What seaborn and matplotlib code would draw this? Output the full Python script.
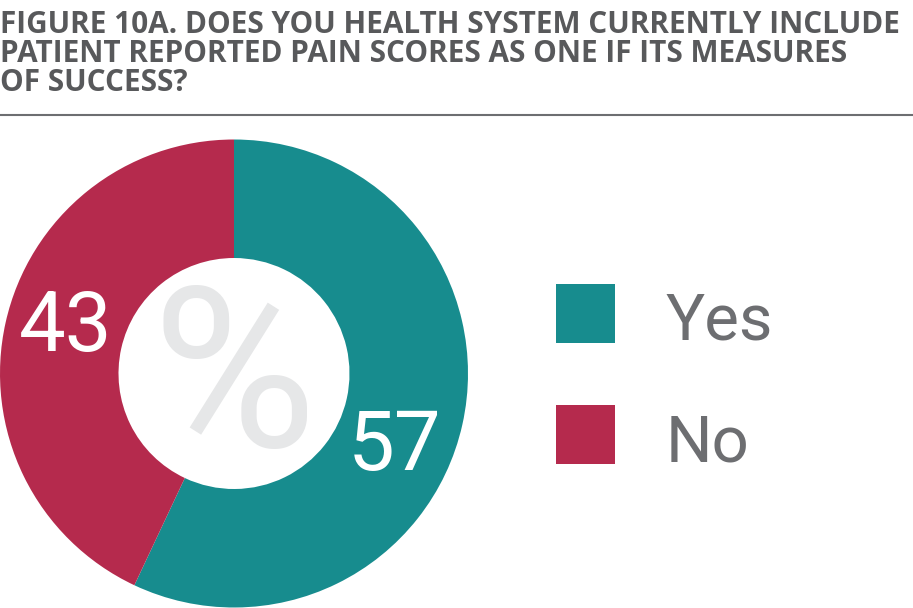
import matplotlib
matplotlib.use("Agg")
import matplotlib.pyplot as plt
from matplotlib.patches import Rectangle
import seaborn as sns

# data
categories = ["Yes", "No"]
values = [57, 43]
colors = ["#178c8e", "#b52a4d"]
title_lines = [
    "FIGURE 10A. DOES YOU HEALTH SYSTEM CURRENTLY INCLUDE",
    "PATIENT REPORTED PAIN SCORES AS ONE IF ITS MEASURES",
    "OF SUCCESS?",
]

sns.set_theme(style="white")
plt.rcParams["font.family"] = ["Roboto", "DejaVu Sans"]

W, H = 913, 608
fig = plt.figure(figsize=(W / 100, H / 100), dpi=100)
ax = fig.add_axes([0, 0, 1, 1])

def py(y):
    # pixel row (from top) -> data y
    return H - y

label_font = ["Roboto", "DejaVu Sans"]
title_gray = "#58595b"
text_gray = "#6d6e71"

# title
for i, line in enumerate(title_lines):
    ax.text(0, py(33 + 29 * i), line, fontsize=21.4, fontweight="bold",
            color=title_gray, ha="left", va="baseline", family=["Open Sans", "DejaVu Sans"])
ax.plot([0, W], [py(115), py(115)], color="#6d6e71", lw=1.5, solid_capstyle="butt")

# donut
cx, cy, r_out, r_in = 234, py(373.5), 234, 115.5
wedges, _ = ax.pie(values, colors=colors, startangle=90, counterclock=False,
                   center=(cx, cy), radius=r_out,
                   wedgeprops=dict(width=r_out - r_in, linewidth=0))

# value labels
label_pos = [(394.5, 470), (66, 351)]
for v, (x, yb) in zip(values, label_pos):
    ax.text(x, py(yb), str(v), fontsize=60, color="white", ha="center",
            va="baseline", family=label_font)

ax.text(cx, py(447), "%", fontsize=162, color="#e6e7e8", ha="center",
        va="baseline", family=["Roboto", "DejaVu Sans"])

# legend
sq = 59
leg_tops = [284, 405]
for cat, col, top in zip(categories, colors, leg_tops):
    ax.add_patch(Rectangle((556, py(top + sq)), sq, sq, color=col, lw=0))
    ax.text(666, py(top + 56), cat, fontsize=47, color=text_gray, ha="left",
            va="baseline", family=label_font)

ax.set_xlim(0, W)
ax.set_ylim(0, H)
ax.set_aspect("equal")
ax.axis("off")

fig.savefig("out.png", dpi=100, facecolor="white")
